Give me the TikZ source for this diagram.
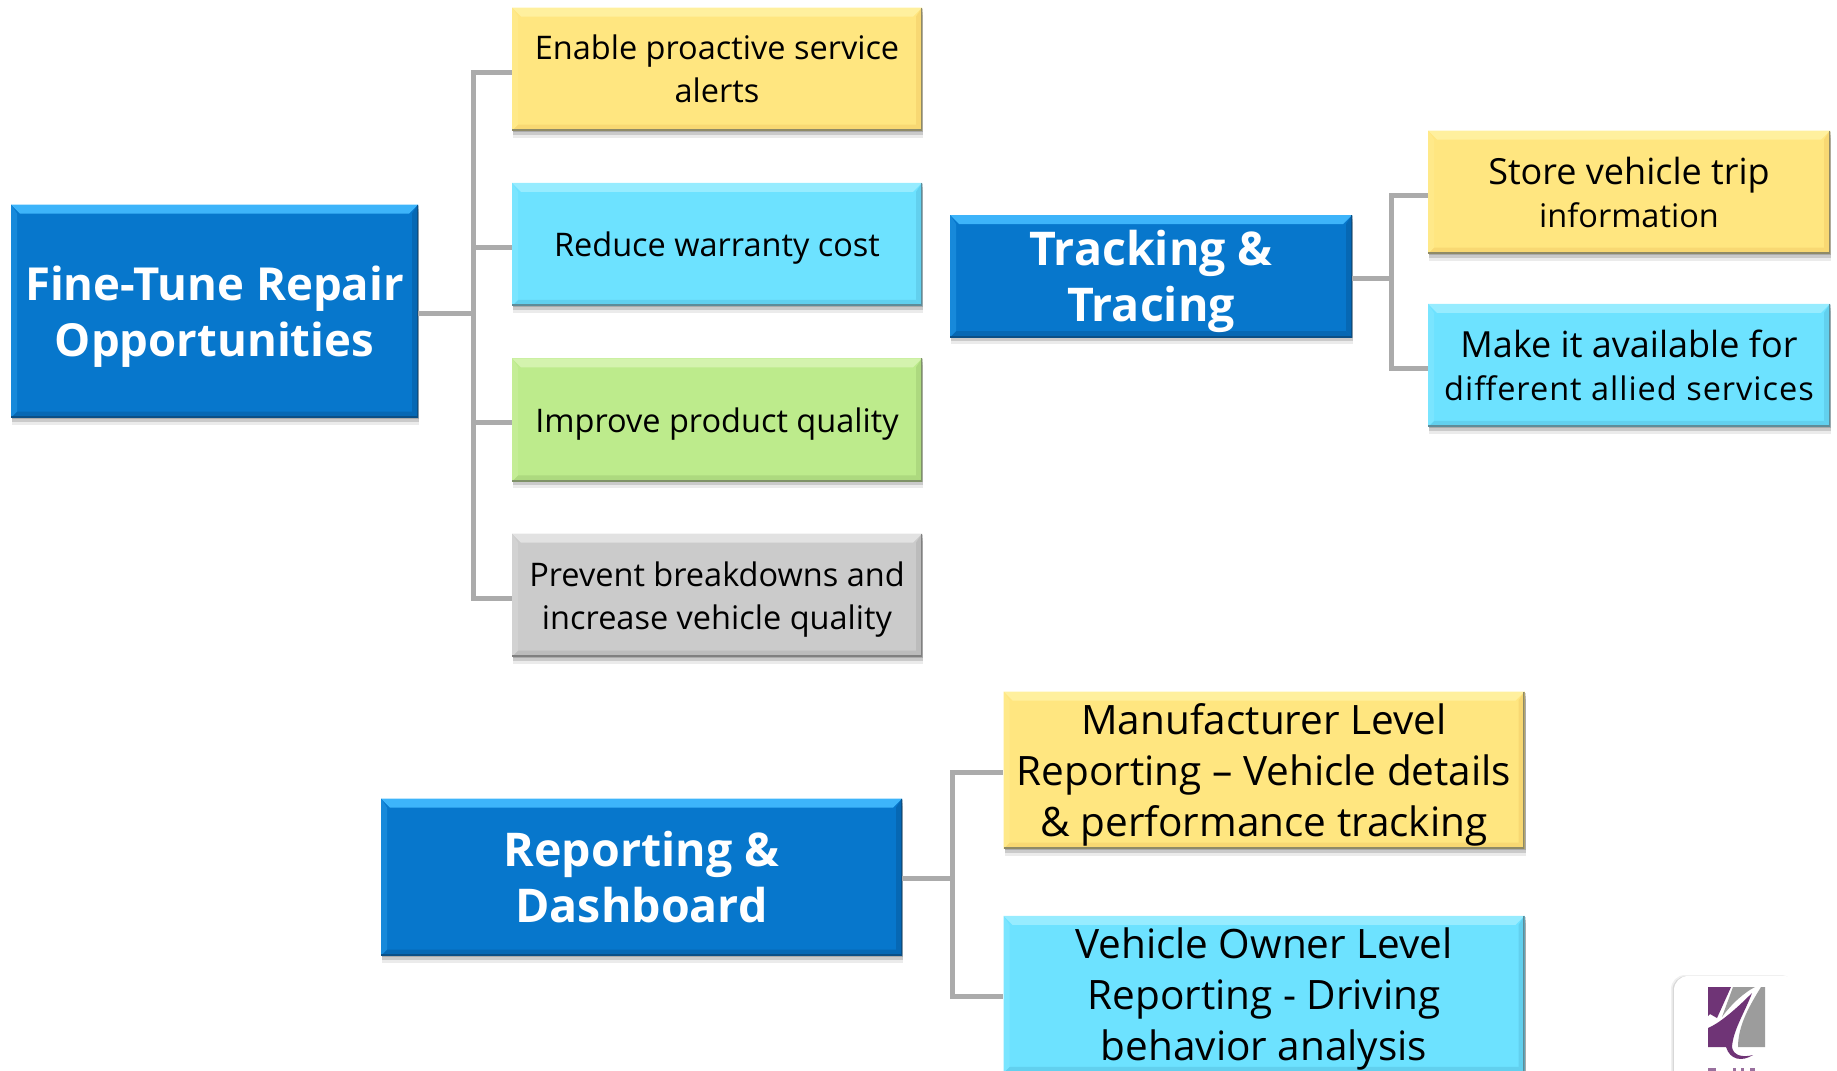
\documentclass[tikz,border=0pt]{standalone}
\usepackage{fontspec}
\setmainfont{Open Sans}
\usepackage{tikz}
\usetikzlibrary{positioning,shadows}
\definecolor{headblue}{HTML}{0777CC}
\definecolor{headtop}{HTML}{3DB4FA}
\definecolor{headlow}{HTML}{0668B4}
\definecolor{headline}{HTML}{0A4F86}
\definecolor{leafyellow}{HTML}{FFE680}
\definecolor{yellowtop}{HTML}{FFF09E}
\definecolor{yellowlow}{HTML}{F8D873}
\definecolor{yellowline}{HTML}{8F8A66}
\definecolor{leafcyan}{HTML}{6DE2FF}
\definecolor{cyantop}{HTML}{97ECFF}
\definecolor{cyanlow}{HTML}{62D0EE}
\definecolor{cyanline}{HTML}{5E8C99}
\definecolor{leafgreen}{HTML}{BDEB8C}
\definecolor{greentop}{HTML}{D4F3AE}
\definecolor{greenlow}{HTML}{ADD97F}
\definecolor{greenline}{HTML}{7F9268}
\definecolor{leafgrey}{HTML}{CBCBCB}
\definecolor{greytop}{HTML}{E2E2E2}
\definecolor{greylow}{HTML}{BCBCBC}
\definecolor{greyline}{HTML}{808080}
\definecolor{linkgrey}{HTML}{ABABAB}
\definecolor{logopurple}{HTML}{6F3476}
\definecolor{logogrey}{HTML}{9C9C9C}
\tikzset{
    %Define soft shadow
    softshadow/.style={
           general shadow={shadow xshift=1pt,shadow yshift=-1pt,opacity=.16,fill=black},
           general shadow={shadow xshift=1pt,shadow yshift=-4pt,opacity=.14,fill=black},
           general shadow={shadow xshift=1pt,shadow yshift=-7pt,opacity=.08,fill=black}},
    %Define bevelled box: face, top edge, low edge, outline
    bevelbox/.style n args={4}{
           rectangle,
           fill=#1,
           inner sep=0pt,
           align=center,
           text depth=-3pt,
           softshadow,
           path picture={
             \fill[#2] (path picture bounding box.north west)
               -- (path picture bounding box.north east)
               -- ([shift={(-9pt,-9pt)}]path picture bounding box.north east)
               -- ([shift={(9pt,-9pt)}]path picture bounding box.north west) -- cycle;
             \fill[#3] (path picture bounding box.south west)
               -- (path picture bounding box.south east)
               -- ([shift={(-6pt,6pt)}]path picture bounding box.south east)
               -- ([shift={(6pt,6pt)}]path picture bounding box.south west) -- cycle;
             \fill[#3] (path picture bounding box.north east)
               -- (path picture bounding box.south east)
               -- ([shift={(-6pt,6pt)}]path picture bounding box.south east)
               -- ([shift={(-6pt,-9pt)}]path picture bounding box.north east) -- cycle;
             \fill[#1!70!#2] (path picture bounding box.north west)
               -- (path picture bounding box.south west)
               -- ([shift={(6pt,6pt)}]path picture bounding box.south west)
               -- ([shift={(6pt,-9pt)}]path picture bounding box.north west) -- cycle;
             \draw[#4,line width=3pt] (path picture bounding box.north east)
               -- (path picture bounding box.south east)
               -- (path picture bounding box.south west);
           }},
    %Define styles for boxes
    headbox/.style={
           bevelbox={headblue}{headtop}{headlow}{headline},
           text=white,
           font=\fontsize{46.5}{56}\selectfont\bfseries},
    yellowbox/.style={bevelbox={leafyellow}{yellowtop}{yellowlow}{yellowline},text=black},
    cyanbox/.style={bevelbox={leafcyan}{cyantop}{cyanlow}{cyanline},text=black},
    greenbox/.style={bevelbox={leafgreen}{greentop}{greenlow}{greenline},text=black},
    greybox/.style={bevelbox={leafgrey}{greytop}{greylow}{greyline},text=black},
    small/.style={minimum width=410pt,minimum height=123pt,font=\fontsize{32.5}{43}\selectfont},
    large/.style={minimum width=521pt,minimum height=157pt,font=\fontsize{40.5}{51}\selectfont},
    % Define connector style
    link/.style={draw=linkgrey,line width=5pt}
}
\begin{document}
\begin{tikzpicture}[x=1pt,y=-1pt]
 \useasboundingbox (0,0) rectangle (1837,1071);
 \clip (0,0) rectangle (1837,1071);
 % first group
 \node[headbox,minimum width=407pt,minimum height=213pt,font=\fontsize{45.5}{56}\selectfont\bfseries](repair) at (214.5,311)
 {Fine-Tune Repair\\Opportunities};
 \node[yellowbox,small](alerts) at (717,69){Enable proactive service\\alerts};
 \node[cyanbox,small,below=52pt of alerts](warranty){Reduce warranty cost};
 \node[greenbox,small,below=52pt of warranty](quality){Improve product quality};
 \node[greybox,small,below=52pt of quality](breakdown){Prevent breakdowns and\\increase vehicle quality};
 \coordinate (repairbus) at (473,313);
 % second group
 \node[headbox,minimum width=402pt,minimum height=122pt](tracking) at (1151,276){Tracking \&\\Tracing};
 \node[yellowbox,small,minimum width=402pt](store) at (1629,192)
 {\fontsize{36}{43}\selectfont Store vehicle trip\\information};
 \node[cyanbox,small,minimum width=402pt,below=50pt of store](allied)
 {\fontsize{36}{43}\selectfont Make it available for\\{\addfontfeature{LetterSpace=3}different allied services}};
 \coordinate (trackingbus) at (1391,278);
 % third group
 \node[headbox,minimum width=521pt,minimum height=157pt](reporting) at (641.5,877){Reporting \&\\Dashboard};
 \node[yellowbox,large](manufacturer) at (1264,770)
 {Manufacturer Level\\Reporting -- Vehicle details\\\& performance tracking};
 \node[cyanbox,large,below=67pt of manufacturer](owner)
 {Vehicle Owner Level\\Reporting - Driving\\behavior analysis};
 \coordinate (reportingbus) at (952,878);
 % connectors
 \foreach \head/\bus in {repair/repairbus,tracking/trackingbus,reporting/reportingbus}
   \draw[link] (\head.east |- \bus) -- (\bus);
 \foreach \leaf in {alerts,warranty,quality,breakdown}
   \draw[link] (repairbus) |- ([yshift=-3pt]\leaf.west);
 \foreach \leaf in {store,allied}
   \draw[link] (trackingbus) |- ([yshift=-3pt]\leaf.west);
 \foreach \leaf in {manufacturer,owner}
   \draw[link] (reportingbus) |- ([yshift=-2pt]\leaf.west);
 % logo
 \fill[white,rounded corners=14pt,
   general shadow={shadow xshift=-3pt,shadow yshift=1pt,opacity=.06,fill=black},
   general shadow={shadow xshift=-1.5pt,shadow yshift=0pt,opacity=.1,fill=black}]
   (1674,976) rectangle (1798,1090);
 \fill[logogrey] (1765,987) -- (1761,987) .. controls (1750,1005) and (1738,1025) .. (1738,1047) -- (1765,1047) -- cycle;
 \fill[logogrey] (1733,987) -- (1755,987) .. controls (1745,992) and (1732,1003) .. (1722,1017) -- cycle;
 \fill[logopurple] (1708,987) -- (1731,987) -- (1717,1018) -- (1710,1014) -- (1708,1016) -- cycle;
 \fill[logopurple] (1708,1028) .. controls (1722,1022) and (1740,1005) .. (1752,993)
   .. controls (1745,1012) and (1733,1030) .. (1732,1047)
   .. controls (1733,1055) and (1742,1058) .. (1753,1055)
   .. controls (1742,1062) and (1730,1060) .. (1726,1047) -- (1708,1047) -- cycle;
 \foreach \x/\w in {1708/8,1733/3,1741/3,1750/5}
   \fill[logopurple,opacity=.7] (\x,1068) rectangle ++(\w,4);
\end{tikzpicture}
\end{document}
